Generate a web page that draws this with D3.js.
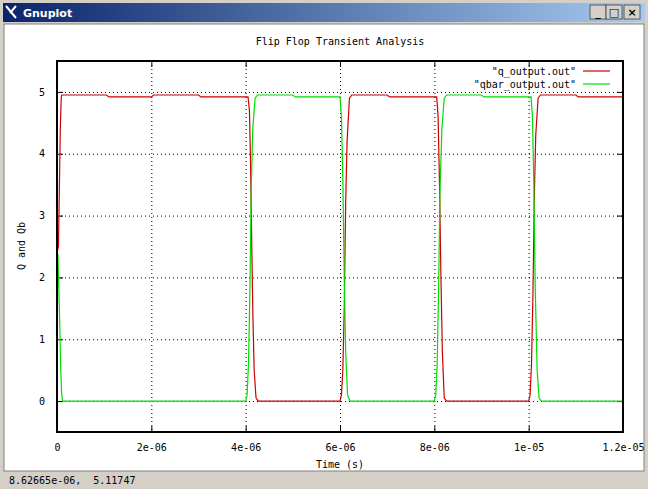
<!DOCTYPE html>
<html><head><meta charset="utf-8">
<script src="https://cdn.jsdelivr.net/npm/d3@7"></script>
<style>
body{margin:0;background:#d4d0c8;}
svg{display:block;font-family:"DejaVu Sans Mono",monospace;font-size:10px;}
</style></head>
<body><svg id="c" width="648" height="489"></svg>
<script>
// time in microseconds
const qTime = [0,0.03,0.05,0.07,0.09,0.1,1.05,1.1,2.0,2.05,3.0,3.05,4.05,4.08,4.1,4.12,4.15,4.18,4.22,4.27,
  6.0,6.03,6.06,6.09,6.12,6.15,6.2,6.25,7.0,7.05,8.05,8.08,8.11,8.14,8.17,8.21,8.26,
  10.0,10.03,10.06,10.09,10.12,10.15,10.2,10.25,11.0,11.05,12.0];
const qVals = [2.4,2.5,3.4,4.4,4.9,4.95,4.95,4.92,4.92,4.95,4.95,4.92,4.92,4.7,4.0,3.0,1.5,0.5,0.05,0,
  0,0.1,0.5,1.5,3.2,4.2,4.9,4.95,4.95,4.92,4.92,4.6,3.5,2.0,0.8,0.05,0,
  0,0.1,0.6,1.7,3.3,4.3,4.9,4.95,4.95,4.92,4.92];
const qbTime = [0,0.01,0.02,0.05,0.08,0.1,0.12,4.0,4.03,4.06,4.09,4.12,4.15,4.2,4.25,5.0,5.05,6.0,6.03,6.06,6.09,6.12,6.16,6.21,
  8.0,8.03,8.06,8.09,8.12,8.16,8.21,8.26,9.0,9.05,10.05,10.08,10.11,10.14,10.18,10.22,10.27,12.0];
const qbVals = [1.0,2.4,2.35,1.5,0.5,0.1,0,0,0.1,0.6,1.8,3.5,4.4,4.9,4.95,4.95,4.92,4.92,4.6,3.6,2.0,0.8,0.1,0,
  0,0.1,0.6,1.8,3.4,4.4,4.9,4.95,4.95,4.92,4.92,4.6,3.5,1.8,0.5,0.05,0,0];
const xTicks = [0,2,4,6,8,10,12];
const xTickLabels = ["0","2e-06","4e-06","6e-06","8e-06","1e-05","1.2e-05"];
const yTicks = [0,1,2,3,4,5];

const svg = d3.select('#c');

// window chrome
const grad = svg.append('defs').append('linearGradient').attr('id','tb');
grad.append('stop').attr('offset','0').attr('stop-color','#0a246a');
grad.append('stop').attr('offset','1').attr('stop-color','#a6caf0');
svg.append('rect').attr('x',0).attr('y',0).attr('width',648).attr('height',489).attr('fill','#d4d0c8');
svg.append('rect').attr('x',3).attr('y',3).attr('width',642).attr('height',19).attr('fill','url(#tb)');
svg.append('text').attr('x',23).attr('y',17).attr('fill','#fff').attr('font-weight','bold')
  .style('font-family','Tahoma,"DejaVu Sans",sans-serif').style('font-size','11px').text('Gnuplot');
svg.append('path').attr('d','M6,6 L16,18 M16,6 L10,13').attr('stroke','#fff').attr('stroke-width',2);
[590,606,624].forEach((x,i)=>{
  svg.append('rect').attr('x',x).attr('y',5).attr('width',16).attr('height',14).attr('fill','#d4d0c8')
    .attr('stroke','#404040').attr('stroke-width',0.8);
  svg.append('text').attr('x',x+8).attr('y',16).attr('text-anchor','middle').attr('font-weight','bold')
    .style('font-family','"DejaVu Sans",sans-serif').style('font-size','11px').text(['_','□','×'][i]);
});
svg.append('rect').attr('x',4).attr('y',24).attr('width',640).attr('height',447).attr('fill','#fff')
  .attr('stroke','#808080');

const L = 57, R = 623, T = 61, B = 432;
const x = d3.scaleLinear().domain([0,12]).range([L,R]);
const y = d3.scaleLinear().domain([-0.5,5.5]).range([B,T]);

// grid
const g = svg.append('g');
g.selectAll('.gx').data(xTicks.slice(1,-1)).enter().append('line')
  .attr('x1',d=>x(d)+0.5).attr('x2',d=>x(d)+0.5).attr('y1',T).attr('y2',B)
  .attr('stroke','#000').attr('stroke-dasharray','1,3');
g.selectAll('.gy').data(yTicks).enter().append('line')
  .attr('x1',L).attr('x2',R).attr('y1',d=>y(d)+0.5).attr('y2',d=>y(d)+0.5)
  .attr('stroke','#000').attr('stroke-dasharray','1,3');

// axes with mirrored ticks
svg.append('g').attr('transform',`translate(0,${B})`)
  .call(d3.axisBottom(x).tickValues(xTicks).tickFormat((d,i)=>xTickLabels[i]).tickSize(-6).tickPadding(12))
  .call(a=>{a.select('.domain').remove();a.selectAll('text').style('font-family','"DejaVu Sans Mono",monospace').style('font-size','10px');});
svg.append('g').attr('transform',`translate(0,${T})`)
  .call(d3.axisTop(x).tickValues(xTicks).tickFormat('').tickSize(-6))
  .call(a=>a.select('.domain').remove());
svg.append('g').attr('transform',`translate(${L},0)`)
  .call(d3.axisLeft(y).tickValues(yTicks).tickFormat(d3.format('d')).tickSize(-6).tickPadding(12))
  .call(a=>{a.select('.domain').remove();a.selectAll('text').style('font-family','"DejaVu Sans Mono",monospace').style('font-size','10px');});
svg.append('g').attr('transform',`translate(${R},0)`)
  .call(d3.axisRight(y).tickValues(yTicks).tickFormat('').tickSize(-6))
  .call(a=>a.select('.domain').remove());

// series
const line = d3.line().x(d=>x(d[0])).y(d=>y(d[1]));
svg.append('path').datum(qTime.map((t,i)=>[t,qVals[i]])).attr('d',line)
  .attr('fill','none').attr('stroke','#cc0000').attr('stroke-width',1.2);
svg.append('path').datum(qbTime.map((t,i)=>[t,qbVals[i]])).attr('d',line)
  .attr('fill','none').attr('stroke','#00dd00').attr('stroke-width',1.2);

svg.append('rect').attr('x',L).attr('y',T).attr('width',R-L).attr('height',B-T)
  .attr('fill','none').attr('stroke','#000').attr('stroke-width',2);

// key
const keys = [["\"q_output.out\"","#cc0000"],["\"qbar_output.out\"","#00dd00"]];
keys.forEach((k,i)=>{
  svg.append('text').attr('x',576).attr('y',75+i*13).attr('text-anchor','end').text(k[0]);
  svg.append('line').attr('x1',583).attr('x2',610).attr('y1',71+i*13).attr('y2',71+i*13)
    .attr('stroke',k[1]).attr('stroke-width',1.2);
});

// labels
svg.append('text').attr('x',340).attr('y',45).attr('text-anchor','middle').text('Flip Flop Transient Analysis');
svg.append('text').attr('x',340).attr('y',468).attr('text-anchor','middle').text('Time (s)');
svg.append('text').attr('transform','translate(25,246) rotate(-90)').attr('text-anchor','middle').text('Q and Qb');
svg.append('text').attr('x',9).attr('y',484).style('white-space','pre').text('8.62665e-06,  5.11747');
</script></body></html>
